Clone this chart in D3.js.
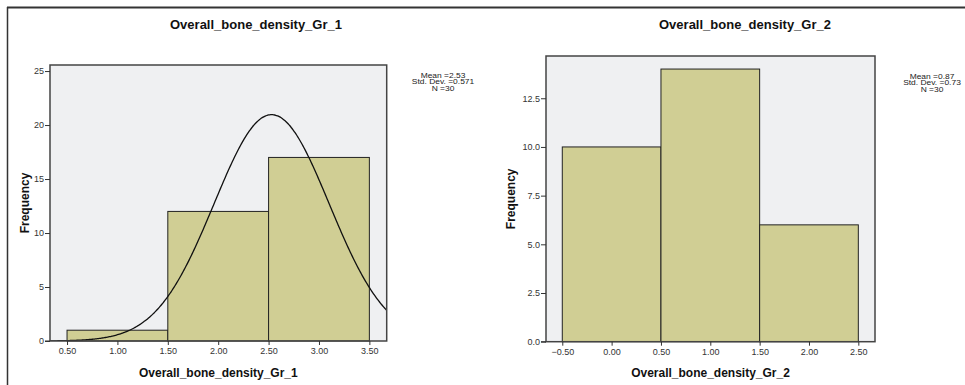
<!DOCTYPE html>
<html lang="en">
<head>
  <meta charset="UTF-8">
  <title>Overall bone density histograms</title>
  <script src="https://d3js.org/d3.v7.min.js"></script>
  <style>
    body, html { margin: 0; padding: 0; background: #fff; }
    svg { display: block; font-family: "Liberation Sans", Arial, sans-serif; }
    .tick-label { font-size: 9px; fill: #333; }
    .chart-title { font-size: 13px; font-weight: bold; fill: #111; }
    .axis-title { font-size: 12px; font-weight: bold; fill: #111; }
    .stats { font-size: 6.5px; fill: #222; }
  </style>
</head>
<body>
  <svg id="chart" width="965" height="385"></svg>
  <script>
    // group 1
    const edges1 = [0.5, 1.5, 2.5, 3.5];
    const counts1 = [1, 12, 17];
    const xTicks1 = [0.5, 1.0, 1.5, 2.0, 2.5, 3.0, 3.5];
    const yTicks1 = [0, 5, 10, 15, 20, 25];
    const stats1 = { mean: 2.53, sd: 0.571, n: 30 };
    const statLines1 = ["Mean =2.53", "Std. Dev. =0.571", "N =30"];

    // group 2
    const edges2 = [-0.5, 0.5, 1.5, 2.5];
    const counts2 = [10, 14, 6];
    const xTicks2 = [-0.5, 0.0, 0.5, 1.0, 1.5, 2.0, 2.5];
    const yTicks2 = [0, 2.5, 5.0, 7.5, 10.0, 12.5];
    const statLines2 = ["Mean =0.87", "Std. Dev. =0.73", "N =30"];

    const svg = d3.select("#chart");

    // outer frame
    svg.append("line").attr("x1", 7).attr("x2", 965).attr("y1", 7.5).attr("y2", 7.5)
      .attr("stroke", "#333").attr("stroke-width", 2);
    svg.append("line").attr("x1", 7.5).attr("x2", 7.5).attr("y1", 7).attr("y2", 385)
      .attr("stroke", "#333").attr("stroke-width", 1.5);

    const panels = [
      {
        name: "Overall_bone_density_Gr_1",
        edges: edges1, counts: counts1, xTicks: xTicks1, yTicks: yTicks1,
        yFmt: d3.format("d"), stats: stats1, statLines: statLines1,
        left: 50, right: 386.7, top: 65, bottom: 341,
        xDom: [0.331, 3.672], yMax: 25.56,
        titleX: 256, titleY: 29, statX: 443, statY: 78, freqX: 25
      },
      {
        name: "Overall_bone_density_Gr_2",
        edges: edges2, counts: counts2, xTicks: xTicks2, yTicks: yTicks2,
        yFmt: d3.format(".1f"), stats: null, statLines: statLines2,
        left: 546, right: 875, top: 56, bottom: 341.7,
        xDom: [-0.665, 2.669], yMax: 14.67,
        titleX: 745, titleY: 29, statX: 932, statY: 79, freqX: 511
      }
    ];

    panels.forEach((p, i) => {
      const x = d3.scaleLinear().domain(p.xDom).range([p.left, p.right]);
      const y = d3.scaleLinear().domain([0, p.yMax]).range([p.bottom, p.top]);
      const g = svg.append("g");

      g.append("rect")
        .attr("x", p.left).attr("y", p.top)
        .attr("width", p.right - p.left).attr("height", p.bottom - p.top)
        .attr("fill", "#eff0f2");

      const bins = p.counts.map((c, k) => ({ x0: p.edges[k], x1: p.edges[k + 1], c }));
      g.selectAll(".bar").data(bins).enter().append("rect")
        .attr("class", "bar")
        .attr("x", d => x(d.x0))
        .attr("y", d => y(d.c))
        .attr("width", d => x(d.x1) - x(d.x0))
        .attr("height", d => y(0) - y(d.c))
        .attr("fill", "#d0ce94")
        .attr("stroke", "#222")
        .attr("stroke-width", 1);

      // normal curve from the reported mean / sd
      if (p.stats) {
        const bw = p.edges[1] - p.edges[0];
        const s = p.stats;
        const pts = d3.range(p.xDom[0], p.xDom[1] + 0.001, 0.01).map(v => {
          const z = (v - s.mean) / s.sd;
          return [v, s.n * bw * Math.exp(-0.5 * z * z) / (s.sd * Math.sqrt(2 * Math.PI))];
        });
        const clipId = "clip" + i;
        svg.append("clipPath").attr("id", clipId).append("rect")
          .attr("x", p.left).attr("y", p.top)
          .attr("width", p.right - p.left).attr("height", p.bottom - p.top);
        g.append("path")
          .datum(pts)
          .attr("clip-path", `url(#${clipId})`)
          .attr("fill", "none")
          .attr("stroke", "#111")
          .attr("stroke-width", 1.3)
          .attr("d", d3.line().x(d => x(d[0])).y(d => y(d[1])).curve(d3.curveMonotoneX));
      }

      // plot frame
      g.append("rect")
        .attr("x", p.left).attr("y", p.top)
        .attr("width", p.right - p.left).attr("height", p.bottom - p.top)
        .attr("fill", "none").attr("stroke", "#444").attr("stroke-width", 1.5);

      // y axis
      const ya = g.append("g").attr("transform", `translate(${p.left},0)`)
        .call(d3.axisLeft(y).tickValues(p.yTicks).tickFormat(p.yFmt).tickSize(5).tickPadding(1));
      ya.select(".domain").remove();
      ya.selectAll("line").attr("stroke", "#333");
      ya.selectAll("text").attr("class", "tick-label").attr("fill", null);

      // x axis
      const xa = g.append("g").attr("transform", `translate(0,${p.bottom})`)
        .call(d3.axisBottom(x).tickValues(p.xTicks).tickFormat(d3.format(".2f")).tickSize(4).tickPadding(3));
      xa.select(".domain").remove();
      xa.selectAll("line").attr("stroke", "#333");
      xa.selectAll("text").attr("class", "tick-label").attr("fill", null);
      g.append("line").attr("x1", p.left - 5).attr("x2", p.left)
        .attr("y1", p.bottom).attr("y2", p.bottom).attr("stroke", "#333");

      // titles
      g.append("text").attr("class", "chart-title")
        .attr("x", p.titleX).attr("y", p.titleY).attr("text-anchor", "middle").text(p.name);
      g.append("text").attr("class", "axis-title")
        .attr("x", (p.left + p.right) / 2).attr("y", 377).attr("text-anchor", "middle").text(p.name);
      g.append("text").attr("class", "axis-title")
        .attr("transform", `translate(${p.freqX + 4},${(p.top + p.bottom) / 2}) rotate(-90)`)
        .attr("text-anchor", "middle").text("Frequency");

      // stats box, slightly stretched sideways like the original
      const sg = g.append("g").attr("transform", `translate(${p.statX},${p.statY}) scale(1.3,1)`);
      sg.selectAll("text").data(p.statLines).enter().append("text")
        .attr("class", "stats").attr("text-anchor", "middle")
        .attr("x", 0).attr("y", (d, k) => k * 6.5).text(d => d);
    });
  </script>
</body>
</html>
